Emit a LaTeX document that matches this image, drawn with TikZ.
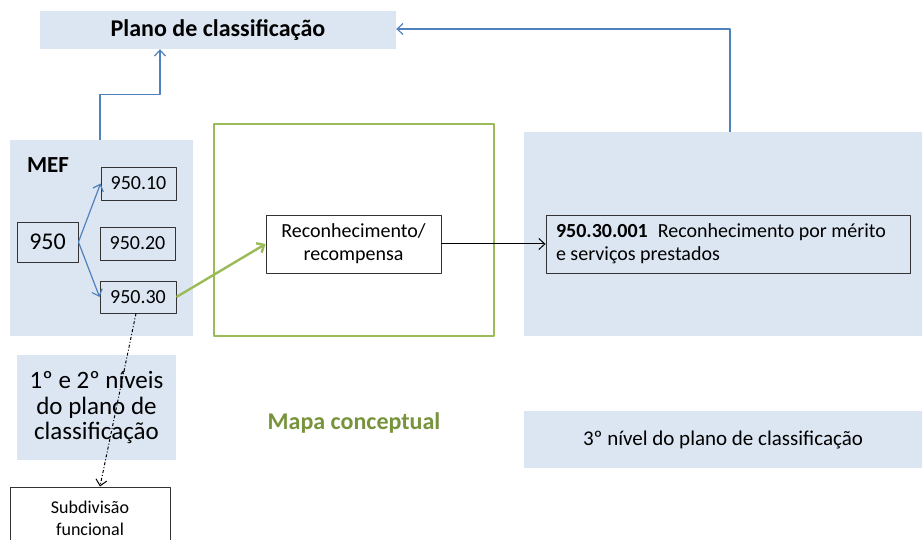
\documentclass[tikz,border=0pt]{standalone}
\usepackage{fontspec}
\setmainfont{Carlito}
\usetikzlibrary{arrows.meta, positioning}

\definecolor{panelblue}{RGB}{220,230,242}
\definecolor{linkblue}{RGB}{79,129,189}
\definecolor{mapgreen}{RGB}{155,187,89}
\definecolor{labelgreen}{RGB}{119,147,60}

\begin{document}
\begin{tikzpicture}[x=1pt, y=-1pt, line join=round,
    >={Straight Barb[length=6pt, width=11pt]},
    panel/.style={fill=panelblue, inner sep=0pt},
    codebox/.style={draw=black!80, line width=0.9pt, inner sep=0pt},
    bluelink/.style={draw=linkblue, line width=1.2pt},
    txt/.style={font=\fontsize{20}{23}\selectfont},
    bigtxt/.style={font=\fontsize{24}{26}\selectfont}]
    \useasboundingbox (0,0) rectangle (922,540);

    % panels
    \node[panel, minimum width=356pt, minimum height=38pt, font=\fontsize{24}{26}\selectfont\bfseries] (plano) at (218,30) {Plano de classifica\c{c}\~ao};
    \node[panel, minimum width=183pt, minimum height=196pt] (mef) at (101.5,238) {};
    \node[panel, minimum width=398pt, minimum height=204pt] (nivel3) at (723,234) {};
    \node[panel, minimum width=159pt, minimum height=105pt, align=center,
          font=\fontsize{25}{25.5}\selectfont] (niveis) at (96.5,407.5) {1º e 2º níveis\\do plano de\\classificação};
    \node[panel, minimum width=398pt, minimum height=57pt, font=\fontsize{21}{23}\selectfont] (nivel3lab) at (723,439.5) {3º nível do plano de classificação};

    % MEF codes
    \node[font=\fontsize{23}{26}\selectfont\bfseries] (meflab) at (48,165) {MEF};
    \node[codebox, fill=panelblue, minimum width=61pt, minimum height=40pt, bigtxt] (c950) at (47.5,242) {950};
    \node[codebox, fill=panelblue, minimum width=75pt, minimum height=33pt, txt] (c95010) at (138.5,183.5) {950.10};
    \node[codebox, fill=panelblue, minimum width=75pt, minimum height=33pt, txt] (c95020) at (137.5,243.5) {950.20};
    \node[codebox, fill=panelblue, minimum width=76pt, minimum height=32pt, txt] (c95030) at (138,297) {950.30};

    % conceptual map
    \node[draw=mapgreen, line width=2.4pt, minimum width=280pt, minimum height=212pt] (mapa) at (354,230) {};
    \node[codebox, fill=white, minimum width=175pt, minimum height=58pt, align=center, txt] (reco) at (353.5,244) {Reconhecimento/\\recompensa};
    \node[font=\fontsize{24}{26}\selectfont\bfseries, text=labelgreen] (mapalab) at (354,423) {Mapa conceptual};

    % third level
    \node[codebox, fill=panelblue, text width=344pt, inner xsep=10pt, minimum height=58pt, align=flush left, txt] (c95030001) at (728,244) {\textbf{950.30.001}\enspace Reconhecimento por mérito\\e serviços prestados};

    \node[codebox, fill=white, minimum width=160pt, minimum height=62pt, align=center,
          font=\fontsize{18}{22}\selectfont] (subdiv) at (90,518) {Subdivisão\\funcional};

    % connectors
    \draw[bluelink, ->] (c950.east) -- (c95010.west);
    \draw[bluelink, ->] (c950.east) -- (c95030.west);
    \draw[bluelink, ->] ([xshift=-1.5pt]mef.north) -- ++(0,-45) -| ([xshift=-58pt]plano.south);
    \draw[bluelink, ->] ([xshift=7pt]nivel3.north) |- ([yshift=1pt]plano.east);
    \draw[mapgreen, line width=2.4pt, ->] (c95030.east) -- (reco.west);
    \draw[black, line width=1pt, ->] (reco.east) -- (c95030001.west);
    \draw[black, line width=1pt, dash dot, ->] ([xshift=-2pt]c95030.south) -- ([xshift=10pt]subdiv.north);
\end{tikzpicture}
\end{document}
